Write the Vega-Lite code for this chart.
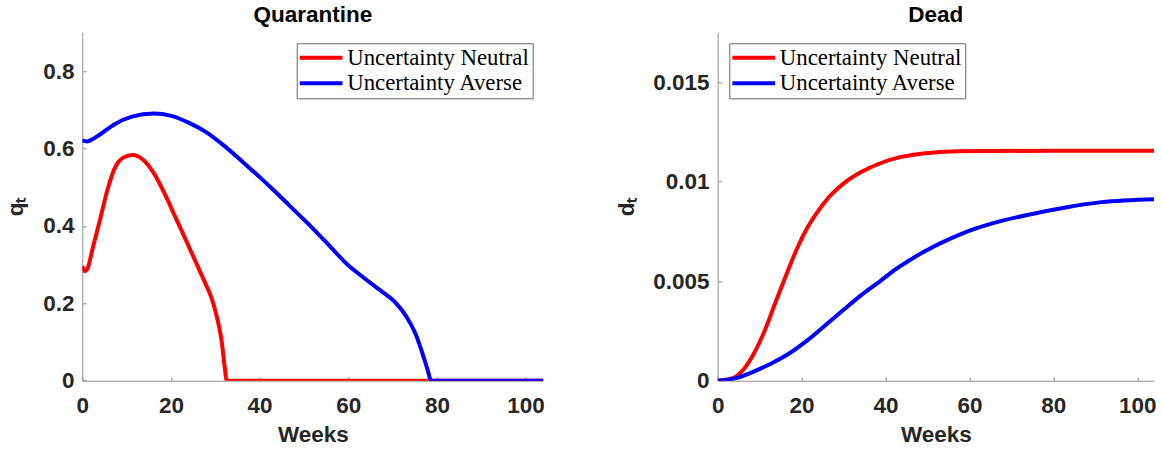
{
  "$schema": "https://vega.github.io/schema/vega-lite/v6.json",
  "autosize": {"type": "none"},
  "padding": {"left": 82.3, "top": 32.3, "right": 1079.7, "bottom": 418.7},
  "background": "white",
  "bounds": "flush",
  "spacing": 174.4,
  "resolve": {"legend": {"color": "independent"}},
  "config": {
    "view": {"stroke": null},
    "font": "Liberation Sans",
    "axis": {
      "domainColor": "#909090", "tickColor": "#909090", "tickSize": -4, "grid": false,
      "domainWidth": 1, "tickWidth": 1, "labelFlush": false,
      "labelFont": "Liberation Sans", "labelFontSize": 22.5, "labelFontWeight": "bold", "labelColor": "#262626",
      "titleFont": "Liberation Sans", "titleFontSize": 22.5, "titleFontWeight": "bold", "titleColor": "#262626"
    },
    "title": {"font": "Liberation Sans", "fontSize": 22.5, "fontWeight": "bold", "color": "black", "baseline": "alphabetic", "offset": 5.5, "anchor": "middle"},
    "legend": {
      "orient": "none", "title": null,
      "symbolType": "M-5,0H5", "symbolSize": 73, "symbolStrokeWidth": 4, "symbolOffset": 10.05,
      "labelOffset": 14.7, "labelFont": "Liberation Serif", "labelFontSize": 22.8, "labelFontWeight": "normal",
      "labelColor": "black", "labelLimit": 400, "strokeColor": "#666666", "fillColor": "white",
      "padding": 3, "rowPadding": 1.6
    }
  },
  "datasets": {
    "q": [
      {"w": 0, "v": 0.296, "s": "Uncertainty Neutral"},
      {"w": 0.6, "v": 0.283, "s": "Uncertainty Neutral"},
      {"w": 1.2, "v": 0.29, "s": "Uncertainty Neutral"},
      {"w": 2.4, "v": 0.345, "s": "Uncertainty Neutral"},
      {"w": 4, "v": 0.416, "s": "Uncertainty Neutral"},
      {"w": 5.6, "v": 0.49, "s": "Uncertainty Neutral"},
      {"w": 7.2, "v": 0.546, "s": "Uncertainty Neutral"},
      {"w": 9.2, "v": 0.576, "s": "Uncertainty Neutral"},
      {"w": 11.4, "v": 0.583, "s": "Uncertainty Neutral"},
      {"w": 13.7, "v": 0.571, "s": "Uncertainty Neutral"},
      {"w": 16.1, "v": 0.537, "s": "Uncertainty Neutral"},
      {"w": 18.5, "v": 0.485, "s": "Uncertainty Neutral"},
      {"w": 20.9, "v": 0.425, "s": "Uncertainty Neutral"},
      {"w": 23.3, "v": 0.365, "s": "Uncertainty Neutral"},
      {"w": 25.7, "v": 0.304, "s": "Uncertainty Neutral"},
      {"w": 27.7, "v": 0.253, "s": "Uncertainty Neutral"},
      {"w": 29.3, "v": 0.209, "s": "Uncertainty Neutral"},
      {"w": 30.5, "v": 0.158, "s": "Uncertainty Neutral"},
      {"w": 31.5, "v": 0.097, "s": "Uncertainty Neutral"},
      {"w": 32.1, "v": 0.037, "s": "Uncertainty Neutral"},
      {"w": 32.6, "v": 0, "s": "Uncertainty Neutral"},
      {"w": 40, "v": 0, "s": "Uncertainty Neutral"},
      {"w": 60, "v": 0, "s": "Uncertainty Neutral"},
      {"w": 80, "v": 0, "s": "Uncertainty Neutral"},
      {"w": 104, "v": 0, "s": "Uncertainty Neutral"},
      {"w": 0, "v": 0.621, "s": "Uncertainty Averse"},
      {"w": 1, "v": 0.618, "s": "Uncertainty Averse"},
      {"w": 2, "v": 0.622, "s": "Uncertainty Averse"},
      {"w": 4, "v": 0.636, "s": "Uncertainty Averse"},
      {"w": 7.2, "v": 0.662, "s": "Uncertainty Averse"},
      {"w": 11.2, "v": 0.682, "s": "Uncertainty Averse"},
      {"w": 16.1, "v": 0.69, "s": "Uncertainty Averse"},
      {"w": 20.1, "v": 0.684, "s": "Uncertainty Averse"},
      {"w": 24.1, "v": 0.666, "s": "Uncertainty Averse"},
      {"w": 28.1, "v": 0.641, "s": "Uncertainty Averse"},
      {"w": 32.1, "v": 0.606, "s": "Uncertainty Averse"},
      {"w": 36.1, "v": 0.566, "s": "Uncertainty Averse"},
      {"w": 40.2, "v": 0.524, "s": "Uncertainty Averse"},
      {"w": 44.2, "v": 0.481, "s": "Uncertainty Averse"},
      {"w": 48.2, "v": 0.436, "s": "Uncertainty Averse"},
      {"w": 52.2, "v": 0.391, "s": "Uncertainty Averse"},
      {"w": 56.2, "v": 0.343, "s": "Uncertainty Averse"},
      {"w": 59.8, "v": 0.3, "s": "Uncertainty Averse"},
      {"w": 63.5, "v": 0.266, "s": "Uncertainty Averse"},
      {"w": 67.5, "v": 0.231, "s": "Uncertainty Averse"},
      {"w": 70.7, "v": 0.201, "s": "Uncertainty Averse"},
      {"w": 73.1, "v": 0.166, "s": "Uncertainty Averse"},
      {"w": 75.1, "v": 0.123, "s": "Uncertainty Averse"},
      {"w": 76.7, "v": 0.072, "s": "Uncertainty Averse"},
      {"w": 77.9, "v": 0.028, "s": "Uncertainty Averse"},
      {"w": 78.7, "v": 0, "s": "Uncertainty Averse"},
      {"w": 90, "v": 0, "s": "Uncertainty Averse"},
      {"w": 104, "v": 0, "s": "Uncertainty Averse"}
    ],
    "d": [
      {"w": 0, "v": 0, "s": "Uncertainty Neutral"},
      {"w": 3.6, "v": 0.00013, "s": "Uncertainty Neutral"},
      {"w": 6.1, "v": 0.00055, "s": "Uncertainty Neutral"},
      {"w": 8.7, "v": 0.00139, "s": "Uncertainty Neutral"},
      {"w": 11.3, "v": 0.00256, "s": "Uncertainty Neutral"},
      {"w": 13.8, "v": 0.00395, "s": "Uncertainty Neutral"},
      {"w": 16.4, "v": 0.00535, "s": "Uncertainty Neutral"},
      {"w": 19, "v": 0.00668, "s": "Uncertainty Neutral"},
      {"w": 21.5, "v": 0.00773, "s": "Uncertainty Neutral"},
      {"w": 24.1, "v": 0.00857, "s": "Uncertainty Neutral"},
      {"w": 26.6, "v": 0.00924, "s": "Uncertainty Neutral"},
      {"w": 30, "v": 0.0099, "s": "Uncertainty Neutral"},
      {"w": 34.3, "v": 0.01049, "s": "Uncertainty Neutral"},
      {"w": 38.6, "v": 0.01091, "s": "Uncertainty Neutral"},
      {"w": 43.7, "v": 0.01124, "s": "Uncertainty Neutral"},
      {"w": 48.8, "v": 0.01141, "s": "Uncertainty Neutral"},
      {"w": 57.3, "v": 0.01153, "s": "Uncertainty Neutral"},
      {"w": 65.9, "v": 0.01154, "s": "Uncertainty Neutral"},
      {"w": 80, "v": 0.01155, "s": "Uncertainty Neutral"},
      {"w": 104, "v": 0.01155, "s": "Uncertainty Neutral"},
      {"w": 0, "v": 0, "s": "Uncertainty Averse"},
      {"w": 4.4, "v": 0.00013, "s": "Uncertainty Averse"},
      {"w": 8.7, "v": 0.00047, "s": "Uncertainty Averse"},
      {"w": 13, "v": 0.00089, "s": "Uncertainty Averse"},
      {"w": 17.2, "v": 0.00139, "s": "Uncertainty Averse"},
      {"w": 21.5, "v": 0.00205, "s": "Uncertainty Averse"},
      {"w": 25.8, "v": 0.00281, "s": "Uncertainty Averse"},
      {"w": 30, "v": 0.00356, "s": "Uncertainty Averse"},
      {"w": 34.3, "v": 0.00431, "s": "Uncertainty Averse"},
      {"w": 38.6, "v": 0.00498, "s": "Uncertainty Averse"},
      {"w": 42.8, "v": 0.00565, "s": "Uncertainty Averse"},
      {"w": 47.1, "v": 0.00623, "s": "Uncertainty Averse"},
      {"w": 51.4, "v": 0.00673, "s": "Uncertainty Averse"},
      {"w": 55.6, "v": 0.00715, "s": "Uncertainty Averse"},
      {"w": 59.9, "v": 0.00753, "s": "Uncertainty Averse"},
      {"w": 65.9, "v": 0.00793, "s": "Uncertainty Averse"},
      {"w": 74.4, "v": 0.00835, "s": "Uncertainty Averse"},
      {"w": 82.9, "v": 0.0087, "s": "Uncertainty Averse"},
      {"w": 91.5, "v": 0.00897, "s": "Uncertainty Averse"},
      {"w": 104, "v": 0.00912, "s": "Uncertainty Averse"}
    ]
  },
  "hconcat": [
    {
      "width": 461,
      "height": 348.4,
      "title": "Quarantine",
      "data": {"name": "q"},
      "mark": {"type": "line", "strokeWidth": 4, "interpolate": "monotone", "clip": true},
      "encoding": {
        "x": {"field": "w", "type": "quantitative", "scale": {"domain": [0, 104], "nice": false},
          "axis": {"values": [0, 20, 40, 60, 80, 100], "title": "Weeks", "labelBaseline": "alphabetic", "labelPadding": 36.3, "titleY": 61.3, "titleBaseline": "alphabetic"}},
        "y": {"field": "v", "type": "quantitative", "scale": {"domain": [0, 0.9], "nice": false},
          "axis": {"values": [0, 0.2, 0.4, 0.6, 0.8], "format": "~g", "title": "qₜ", "labelPadding": 12.3, "titleX": -60, "titleY": 174.2, "titleAngle": -90, "titleBaseline": "alphabetic", "titleAlign": "center"}},
        "color": {"field": "s", "type": "nominal",
          "scale": {"domain": ["Uncertainty Neutral", "Uncertainty Averse"], "range": ["#ff0000", "#0000ff"]},
          "legend": {"legendX": 214.4, "legendY": 11}}
      }
    },
    {
      "width": 436.3,
      "height": 348.4,
      "title": "Dead",
      "data": {"name": "d"},
      "mark": {"type": "line", "strokeWidth": 4, "interpolate": "monotone", "clip": true},
      "encoding": {
        "x": {"field": "w", "type": "quantitative", "scale": {"domain": [0, 104], "nice": false},
          "axis": {"values": [0, 20, 40, 60, 80, 100], "title": "Weeks", "labelBaseline": "alphabetic", "labelPadding": 36.3, "titleY": 61.3, "titleBaseline": "alphabetic"}},
        "y": {"field": "v", "type": "quantitative", "scale": {"domain": [0, 0.0175], "nice": false},
          "axis": {"values": [0, 0.005, 0.01, 0.015], "format": "~g", "title": "dₜ", "labelPadding": 12.7, "titleX": -84, "titleY": 174.2, "titleAngle": -90, "titleBaseline": "alphabetic", "titleAlign": "center"}},
        "color": {"field": "s", "type": "nominal",
          "scale": {"domain": ["Uncertainty Neutral", "Uncertainty Averse"], "range": ["#ff0000", "#0000ff"]},
          "legend": {"legendX": 11.6, "legendY": 11}}
      }
    }
  ]
}
